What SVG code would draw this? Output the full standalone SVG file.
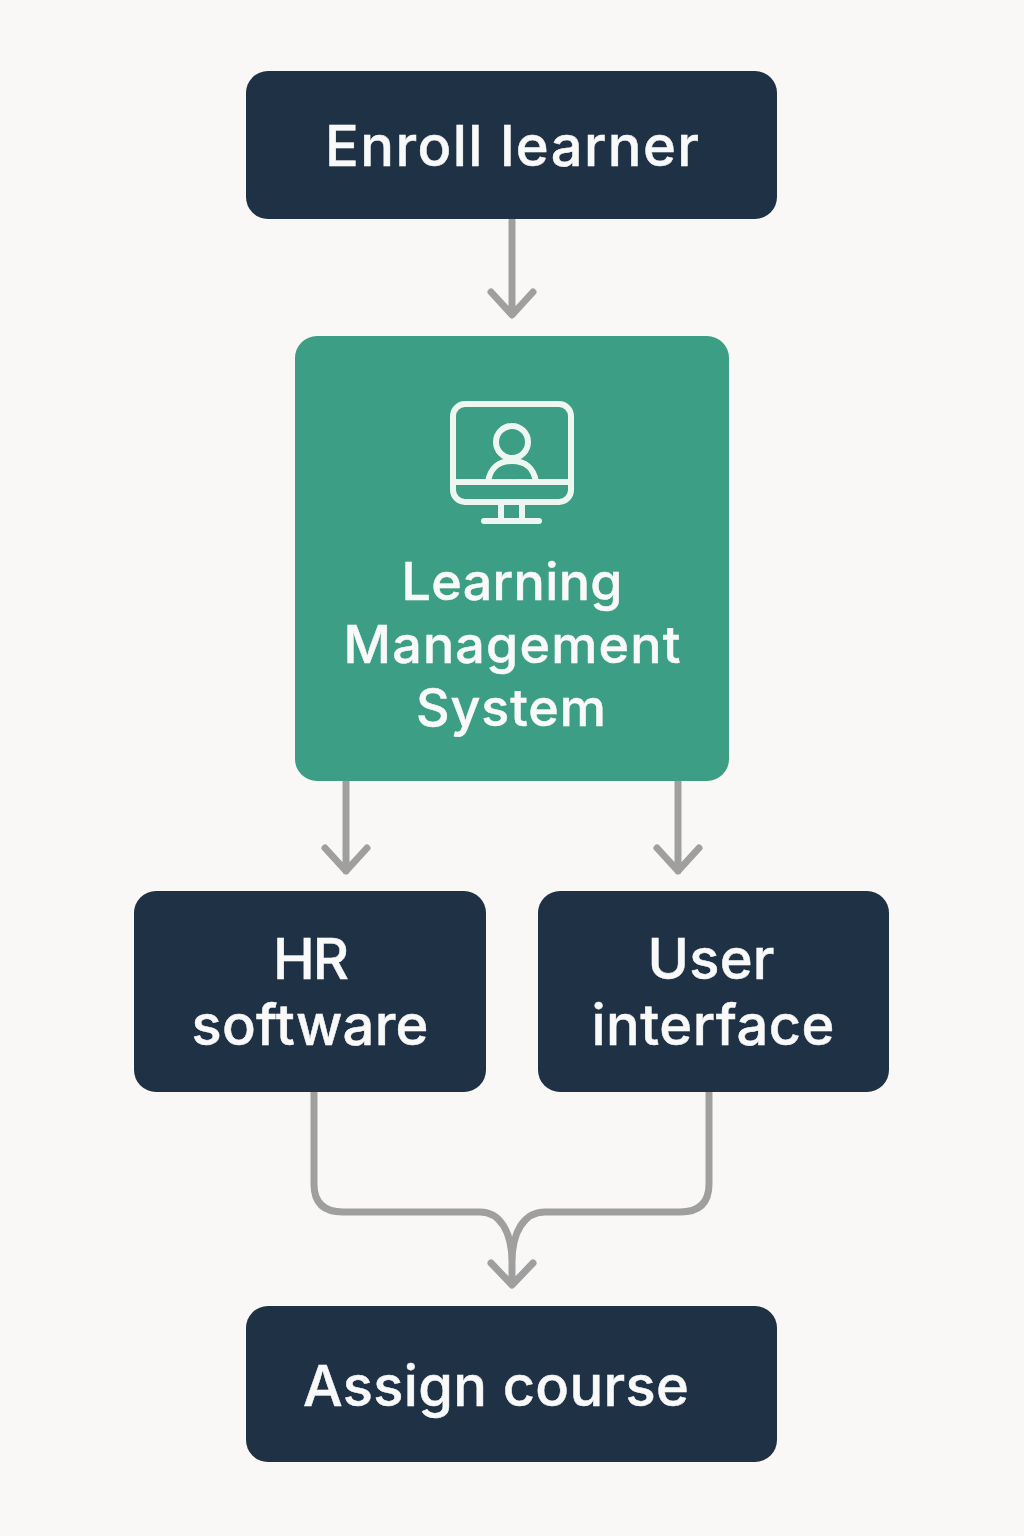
<svg xmlns="http://www.w3.org/2000/svg" width="1024" height="1536" viewBox="0 0 1024 1536">
<style>
.dark{fill:#1e3145}
.t{font-family:"Inter","Noto Sans",sans-serif;font-weight:500;fill:#f8f9f8;text-anchor:middle;stroke:#f8f9f8;stroke-width:.5}
.c{fill:none;stroke:#9f9f9f;stroke-width:7;stroke-linecap:round;stroke-linejoin:round}
.i{fill:none;stroke:#eef6f2;stroke-width:6;stroke-linecap:round;stroke-linejoin:round}
</style>
<rect width="1024" height="1536" fill="#f9f8f7"/>
<g id="connectors">
<path class="c" d="M512 220V314M491 292L512 315L533 292"/>
<path class="c" d="M346 781V871M325 848L346 871L367 848"/>
<path class="c" d="M678 781V871M657 848L678 871L699 848"/>
<path class="c" d="M314 1093V1184Q314 1212 343 1212H480C500 1212 512 1232 512 1262V1284M709 1093V1184Q709 1212 680 1212H545C524 1212 512 1232 512 1262M491 1263L512 1285L533 1263"/>
</g>
<g id="enroll"><rect class="dark" x="246" y="71" width="531" height="148" rx="22"/><text class="t" x="512" y="166" font-size="56" textLength="374">Enroll learner</text></g>
<g id="lms"><rect x="295" y="336" width="434" height="445" rx="22" fill="#3c9e84"/>
<rect class="i" x="453" y="404" width="118" height="98" rx="12"/>
<path class="i" d="M453 482H571M501 502V520M522 502V520M484 521H539"/>
<circle class="i" cx="512" cy="442" r="16"/>
<path class="i" d="M488 482C490 468 499 461 512 461C525 461 534 468 536 482"/>
<text class="t" x="512" y="600" font-size="52" textLength="221">Learning</text>
<text class="t" x="512" y="663" font-size="52" textLength="337">Management</text>
<text class="t" x="511" y="726" font-size="52" textLength="190">System</text></g>
<g id="hr"><rect class="dark" x="134" y="891" width="352" height="201" rx="22"/><text class="t" x="311" y="979" font-size="56" textLength="76">HR</text><text class="t" x="310" y="1045" font-size="56" textLength="237">software</text></g>
<g id="ui"><rect class="dark" x="538" y="891" width="351" height="201" rx="22"/><text class="t" x="711" y="979" font-size="56" textLength="127">User</text><text class="t" x="713" y="1045" font-size="56" textLength="243">interface</text></g>
<g id="assign"><rect class="dark" x="246" y="1306" width="531" height="156" rx="22"/><text class="t" x="496" y="1406" font-size="56" textLength="386">Assign course</text></g>
</svg>
